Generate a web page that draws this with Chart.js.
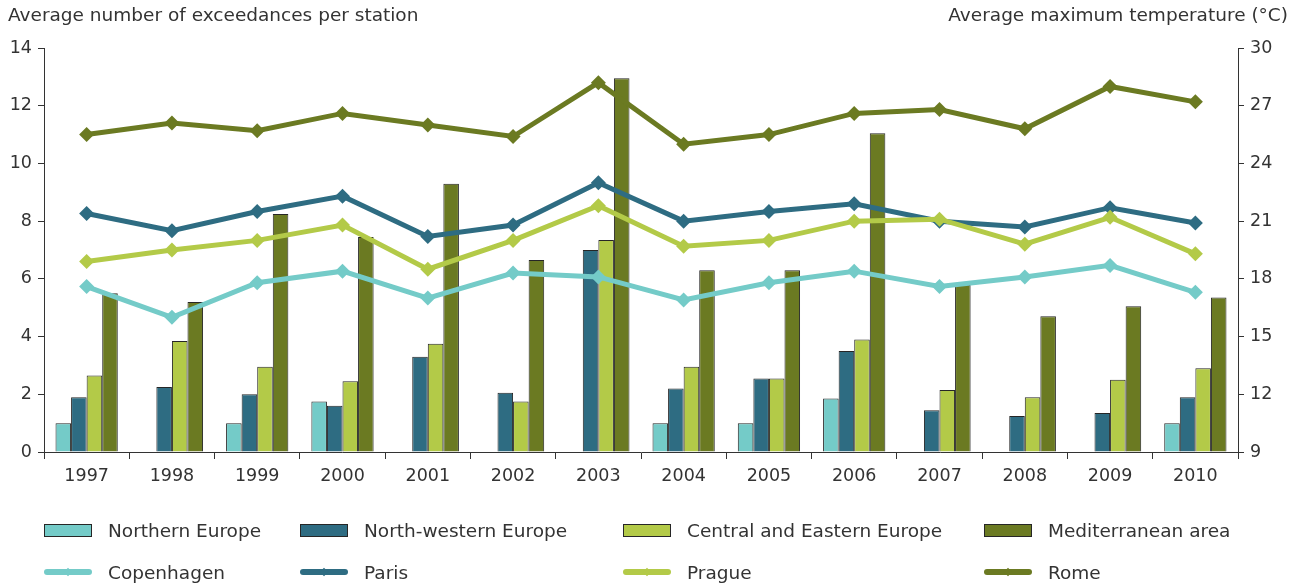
<!DOCTYPE html>
<html>
<head>
<meta charset="utf-8">
<script src="https://cdn.jsdelivr.net/npm/chart.js@4.4.1/dist/chart.umd.min.js"></script>
<style>
  html, body { margin: 0; padding: 0; background: #fff; }
  #wrap { position: relative; width: 1296px; height: 584px; font-family: 'DejaVu Sans', Verdana, sans-serif; color: #333; }
  #chart { position: absolute; left: 0; top: 0; }
  .axis-title { position: absolute; top: 4px; font-size: 18.5px; white-space: nowrap; }
  .legend-item { position: absolute; height: 22px; display: flex; align-items: center; font-size: 18.5px; white-space: nowrap; }
  .legend-item .sw { width: 48px; height: 22px; margin-right: 16px; position: relative; flex: none; }
</style>
</head>
<body>
<div id="wrap">
  <canvas id="chart" width="1296" height="584"></canvas>
  <div class="axis-title" style="left:8px">Average number of exceedances per station</div>
  <div class="axis-title" style="right:8px">Average maximum temperature (°C)</div>
  <div id="legend"></div>
</div>
<script>
const years = ['1997', '1998', '1999', '2000', '2001', '2002', '2003', '2004', '2005', '2006', '2007', '2008', '2009', '2010']

// exceedances per station (left axis)
const northernEurope = [1.0, null, 1.0, 1.75, null, null, null, 1.0, 1.0, 1.85, null, null, null, 1.0]
const northWesternEurope = [1.9, 2.25, 2.0, 1.6, 3.3, 2.05, 7.0, 2.2, 2.55, 3.5, 1.45, 1.25, 1.35, 1.9]
const centralEasternEurope = [2.65, 3.85, 2.95, 2.45, 3.75, 1.75, 7.35, 2.95, 2.55, 3.9, 2.15, 1.9, 2.5, 2.9]
const mediterranean = [5.5, 5.2, 8.25, 7.45, 9.3, 6.65, 12.95, 6.3, 6.3, 11.05, 5.8, 4.7, 5.05, 5.35]

// average max temperature (right axis)
const copenhagen = [17.6, 16.0, 17.8, 18.4, 17.0, 18.3, 18.1, 16.9, 17.8, 18.4, 17.6, 18.1, 18.7, 17.3]
const paris = [21.4, 20.5, 21.5, 22.3, 20.2, 20.8, 23.0, 21.0, 21.5, 21.9, 21.0, 20.7, 21.7, 20.9]
const prague = [18.9, 19.5, 20.0, 20.8, 18.5, 20.0, 21.8, 19.7, 20.0, 21.0, 21.1, 19.8, 21.2, 19.3]
const rome = [25.5, 26.1, 25.7, 26.6, 26.0, 25.4, 28.2, 25.0, 25.5, 26.6, 26.8, 25.8, 28.0, 27.2]

const leftTicks = [0, 2, 4, 6, 8, 10, 12, 14]
const rightTicks = [9, 12, 15, 18, 21, 24, 27, 30]

const colors = {
  teal: '#74cbc8',
  petrol: '#2e6c82',
  lime: '#b3ca48',
  olive: '#6b7a22'
}

const axisColor = '#333333'
const font = { family: "'DejaVu Sans', Verdana, sans-serif", size: 17.5 }

function barSet(label, data, color) {
  return {
    type: 'bar',
    label: label,
    data: data,
    backgroundColor: color,
    borderColor: '#262626',
    borderWidth: 1,
    yAxisID: 'y',
    order: 2
  }
}

function lineSet(label, data, color, order) {
  return {
    type: 'line',
    label: label,
    data: data,
    borderColor: color,
    backgroundColor: color,
    borderWidth: 5,
    pointStyle: 'rectRot',
    pointRadius: 7.5,
    pointBorderWidth: 0,
    tension: 0,
    yAxisID: 'y1',
    order: order
  }
}

const chart = new Chart(document.getElementById('chart'), {
  data: {
    labels: years,
    datasets: [
      barSet('Northern Europe', northernEurope, colors.teal),
      barSet('North-western Europe', northWesternEurope, colors.petrol),
      barSet('Central and Eastern Europe', centralEasternEurope, colors.lime),
      barSet('Mediterranean area', mediterranean, colors.olive),
      lineSet('Copenhagen', copenhagen, colors.teal, 1.3),
      lineSet('Paris', paris, colors.petrol, 1.2),
      lineSet('Prague', prague, colors.lime, 1.1),
      lineSet('Rome', rome, colors.olive, 1.0)
    ]
  },
  options: {
    responsive: false,
    animation: false,
    layout: { padding: { top: 48, left: 0, right: 0, bottom: 0 } },
    datasets: {
      bar: { categoryPercentage: 0.73, barPercentage: 1.0 }
    },
    scales: {
      x: {
        offset: true,
        grid: { offset: true, drawOnChartArea: false, drawTicks: true, tickLength: 7, color: axisColor },
        border: { color: axisColor, width: 1 },
        ticks: { color: axisColor, font: font, padding: 7, maxRotation: 0 },
        afterFit(scale) { scale.height = 132 }
      },
      y: {
        position: 'left',
        min: 0,
        max: 14,
        afterBuildTicks(scale) { scale.ticks = leftTicks.map(v => ({ value: v })) },
        grid: { drawOnChartArea: false, drawTicks: true, tickLength: 6, color: axisColor },
        border: { color: axisColor, width: 1 },
        ticks: { color: axisColor, font: font, padding: 6 },
        afterFit(scale) { scale.width = 44 }
      },
      y1: {
        position: 'right',
        min: 9,
        max: 30,
        afterBuildTicks(scale) { scale.ticks = rightTicks.map(v => ({ value: v })) },
        grid: { drawOnChartArea: false, drawTicks: true, tickLength: 6, color: axisColor },
        border: { color: axisColor, width: 1 },
        ticks: { color: axisColor, font: font, padding: 6 },
        afterFit(scale) { scale.width = 58 }
      }
    },
    plugins: {
      legend: { display: false },
      tooltip: { enabled: false }
    }
  }
})

// legend in two rows of four columns, built from the datasets
const legendCols = [44, 300, 623, 984]
const legendRows = [519, 561]
const legendEl = document.getElementById('legend')
chart.data.datasets.forEach((ds, i) => {
  const item = document.createElement('div')
  item.className = 'legend-item'
  item.style.left = legendCols[i % 4] + 'px'
  item.style.top = legendRows[Math.floor(i / 4)] + 'px'
  const sw = document.createElement('div')
  sw.className = 'sw'
  if (ds.type === 'bar') {
    sw.innerHTML = '<div style="position:absolute;left:0;top:5px;width:46px;height:11px;background:' + ds.backgroundColor + ';border:1px solid #262626"></div>'
  } else {
    sw.innerHTML = '<div style="position:absolute;left:0;top:8px;width:48px;height:6px;border-radius:3px;background:' + ds.borderColor + '"></div>' +
      '<div style="position:absolute;left:21px;top:8px;width:6px;height:6px;transform:rotate(45deg);background:' + ds.borderColor + '"></div>'
  }
  item.appendChild(sw)
  const txt = document.createElement('span')
  txt.textContent = ds.label
  item.appendChild(txt)
  legendEl.appendChild(item)
})
</script>
</body>
</html>
